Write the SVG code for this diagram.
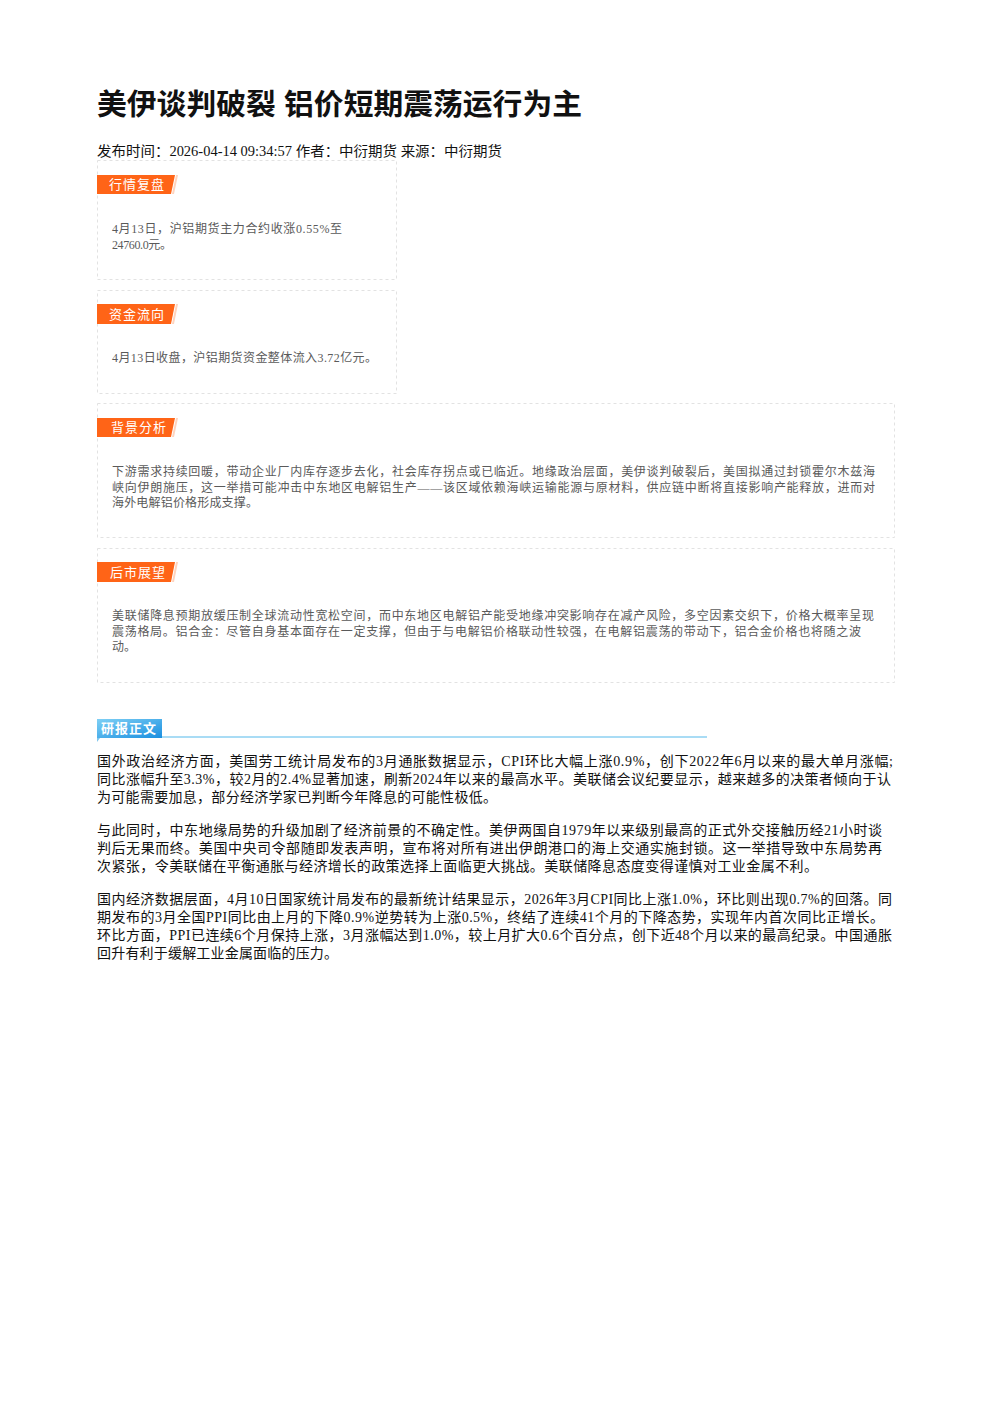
<svg xmlns="http://www.w3.org/2000/svg" width="992" height="1403" viewBox="0 0 992 1403">
<defs>
<linearGradient id="blueg" x1="0" y1="0" x2="1" y2="1">
<stop offset="0" stop-color="#7fd0f5"/>
<stop offset="1" stop-color="#1a8fe0"/>
</linearGradient>
<style>
.title{font-family:"Liberation Sans","Noto Sans CJK SC",sans-serif;font-weight:bold;font-size:29px;fill:#111}
.meta{font-family:"Liberation Serif","Noto Sans CJK SC",serif;font-size:14px;fill:#111}
.box{fill:#fff;stroke:#e2e2e2;stroke-width:1;stroke-dasharray:3 3}
.lab{fill:#ff6417}
.labs{fill:#ffd3bd}
.labt{font-family:"Liberation Sans","Noto Sans CJK SC",sans-serif;font-size:13px;fill:#fff;letter-spacing:1px}
.bt{font-family:"Liberation Serif","Noto Sans CJK SC",serif;font-size:12px;fill:#5a5a5a}
.body{font-family:"Liberation Serif","Noto Sans CJK SC",serif;font-size:14px;fill:#111}
</style>
</defs>
<rect width="992" height="1403" fill="#fff"/>
<g id="header">
<text class="title" x="97" y="115" textLength="485" lengthAdjust="spacingAndGlyphs">美伊谈判破裂 铝价短期震荡运行为主</text>
<text class="meta" x="97" y="156" textLength="405" lengthAdjust="spacingAndGlyphs">发布时间：2026-04-14 09:34:57 作者：中衍期货 来源：中衍期货</text>
</g>
<g id="box-market">
<rect class="box" x="97.5" y="160.5" width="299" height="119"/>
<polygon class="lab" points="97,175 175,175 171,194 97,194"/>
<polygon class="labs" points="172,194 176,175 178,175 174,194"/>
<text class="labt" x="109" y="189">行情复盘</text>
<text class="bt" x="112" y="233" textLength="230" lengthAdjust="spacing">4月13日，沪铝期货主力合约收涨0.55%至</text>
<text class="bt" x="112" y="249" textLength="60" lengthAdjust="spacing">24760.0元。</text>
</g>
<g id="box-fund">
<rect class="box" x="97.5" y="290.5" width="299" height="103"/>
<polygon class="lab" points="97,304 175,304 171,324 97,324"/>
<polygon class="labs" points="172,324 176,304 178,304 174,324"/>
<text class="labt" x="109" y="319">资金流向</text>
<text class="bt" x="112" y="362" textLength="265" lengthAdjust="spacing">4月13日收盘，沪铝期货资金整体流入3.72亿元。</text>
</g>
<g id="box-background">
<rect class="box" x="97.5" y="403.5" width="797" height="134"/>
<polygon class="lab" points="97,418 175,418 171,437 97,437"/>
<polygon class="labs" points="172,437 176,418 178,418 174,437"/>
<text class="labt" x="111" y="432">背景分析</text>
<text class="bt" x="112" y="476" textLength="763" lengthAdjust="spacing">下游需求持续回暖，带动企业厂内库存逐步去化，社会库存拐点或已临近。地缘政治层面，美伊谈判破裂后，美国拟通过封锁霍尔木兹海</text>
<text class="bt" x="112" y="492" textLength="763" lengthAdjust="spacing">峡向伊朗施压，这一举措可能冲击中东地区电解铝生产——该区域依赖海峡运输能源与原材料，供应链中断将直接影响产能释放，进而对</text>
<text class="bt" x="112" y="507" textLength="146" lengthAdjust="spacing">海外电解铝价格形成支撑。</text>
</g>
<g id="box-outlook">
<rect class="box" x="97.5" y="548.5" width="797" height="134"/>
<polygon class="lab" points="97,562 175,562 171,582 97,582"/>
<polygon class="labs" points="172,582 176,562 178,562 174,582"/>
<text class="labt" x="110" y="577">后市展望</text>
<text class="bt" x="112" y="620" textLength="762" lengthAdjust="spacing">美联储降息预期放缓压制全球流动性宽松空间，而中东地区电解铝产能受地缘冲突影响存在减产风险，多空因素交织下，价格大概率呈现</text>
<text class="bt" x="112" y="636" textLength="749" lengthAdjust="spacing">震荡格局。铝合金：尽管自身基本面存在一定支撑，但由于与电解铝价格联动性较强，在电解铝震荡的带动下，铝合金价格也将随之波</text>
<text class="bt" x="112" y="651">动。</text>
</g>
<g id="report-body">
<rect x="162" y="736" width="545" height="2" fill="#a9dcf5"/>
<rect x="97" y="719" width="65" height="19" fill="url(#blueg)"/>
<polygon points="97,738 100,738 97,742" fill="#7fc6ee"/>
<text class="labt" x="101" y="733" style="font-weight:bold">研报正文</text>
<text class="body" x="97" y="766" textLength="796" lengthAdjust="spacing">国外政治经济方面，美国劳工统计局发布的3月通胀数据显示，CPI环比大幅上涨0.9%，创下2022年6月以来的最大单月涨幅;</text>
<text class="body" x="97" y="784" textLength="794" lengthAdjust="spacing">同比涨幅升至3.3%，较2月的2.4%显著加速，刷新2024年以来的最高水平。美联储会议纪要显示，越来越多的决策者倾向于认</text>
<text class="body" x="97" y="802" textLength="400" lengthAdjust="spacing">为可能需要加息，部分经济学家已判断今年降息的可能性极低。</text>
<text class="body" x="97" y="835" textLength="785" lengthAdjust="spacing">与此同时，中东地缘局势的升级加剧了经济前景的不确定性。美伊两国自1979年以来级别最高的正式外交接触历经21小时谈</text>
<text class="body" x="97" y="853" textLength="785" lengthAdjust="spacing">判后无果而终。美国中央司令部随即发表声明，宣布将对所有进出伊朗港口的海上交通实施封锁。这一举措导致中东局势再</text>
<text class="body" x="97" y="871" textLength="721" lengthAdjust="spacing">次紧张，令美联储在平衡通胀与经济增长的政策选择上面临更大挑战。美联储降息态度变得谨慎对工业金属不利。</text>
<text class="body" x="97" y="904" textLength="795" lengthAdjust="spacing">国内经济数据层面，4月10日国家统计局发布的最新统计结果显示，2026年3月CPI同比上涨1.0%，环比则出现0.7%的回落。同</text>
<text class="body" x="97" y="922" textLength="787" lengthAdjust="spacing">期发布的3月全国PPI同比由上月的下降0.9%逆势转为上涨0.5%，终结了连续41个月的下降态势，实现年内首次同比正增长。</text>
<text class="body" x="97" y="940" textLength="795" lengthAdjust="spacing">环比方面，PPI已连续6个月保持上涨，3月涨幅达到1.0%，较上月扩大0.6个百分点，创下近48个月以来的最高纪录。中国通胀</text>
<text class="body" x="97" y="958" textLength="241" lengthAdjust="spacing">回升有利于缓解工业金属面临的压力。</text>
</g>
</svg>
